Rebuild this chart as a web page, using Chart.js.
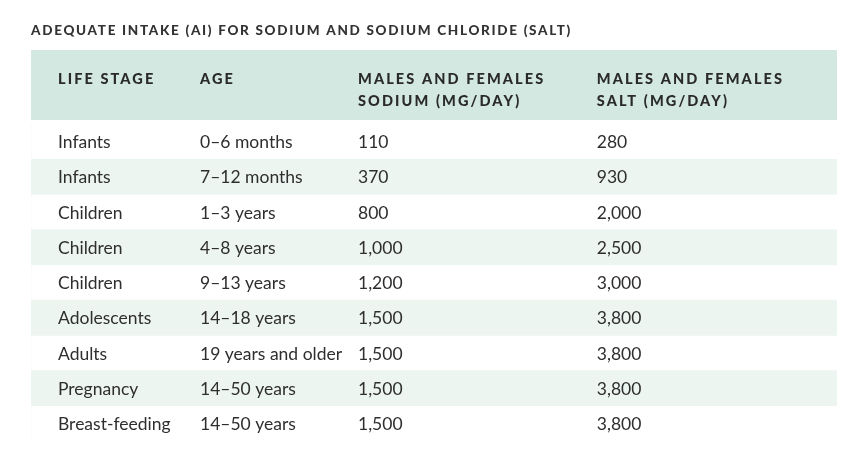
<!DOCTYPE html>
<html><head><meta charset="utf-8">
<script src="https://cdn.jsdelivr.net/npm/chart.js@4"></script>
<style>html,body{margin:0;padding:0;background:#fff}#w{width:853px;height:451px}</style>
</head><body><div id="w"><canvas id="c"></canvas></div>
<script>
const title = "ADEQUATE INTAKE (AI) FOR SODIUM AND SODIUM CHLORIDE (SALT)";
const headers = [["LIFE STAGE"],["AGE"],["MALES AND FEMALES","SODIUM (MG/DAY)"],["MALES AND FEMALES","SALT (MG/DAY)"]];
const lifeStages = ["Infants","Infants","Children","Children","Children","Adolescents","Adults","Pregnancy","Breast-feeding"];
const ages = ["0–6 months","7–12 months","1–3 years","4–8 years","9–13 years","14–18 years","19 years and older","14–50 years","14–50 years"];
const sodium = [110,370,800,1000,1200,1500,1500,1500,1500];
const salt = [280,930,2000,2500,3000,3800,3800,3800,3800];
const columnPos = [0.0335,0.2097,0.4057,0.702];
const stripe = lifeStages.map((_,i)=> i%2===1 ? 1 : 0);
const fmt = v => v.toLocaleString('en-US');
const textPlugin = {
  id:'tbl',
  beforeDatasetsDraw(chart){
    const {ctx, chartArea:a} = chart;
    ctx.save();
    ctx.fillStyle = '#d3e8e0';
    ctx.fillRect(a.left, 50, a.right-a.left, 70);
    ctx.restore();
  },
  afterDraw(chart){
    const {ctx, chartArea:a, scales} = chart;
    const x = scales.x, y = scales.y;
    ctx.save();
    ctx.fillStyle = '#333';
    ctx.textBaseline = 'middle';
    ctx.font = '900 13.5px Lato';
    ctx.letterSpacing = '1.7px';
    ctx.fillText(title, a.left, 31);
    ctx.font = '900 14.5px Lato';
    ctx.letterSpacing = '2.1px';
    ctx.fillStyle = '#2a2a2a';
    headers.forEach((h,i)=>h.forEach((line,j)=>ctx.fillText(line, x.getPixelForValue(columnPos[i]), 79+j*22)));
    ctx.letterSpacing = '0px';
    ctx.font = '17.5px Lato';
    ctx.fillStyle = '#2e2e2e';
    lifeStages.forEach((s,i)=>{
      const py = y.getPixelForValue(i)+1;
      ctx.fillText(s, x.getPixelForValue(columnPos[0]), py);
      ctx.fillText(ages[i], x.getPixelForValue(columnPos[1]), py);
      ctx.fillText(fmt(sodium[i]), x.getPixelForValue(columnPos[2]), py);
      ctx.fillText(fmt(salt[i]), x.getPixelForValue(columnPos[3]), py);
    });
    ctx.restore();
  }
};
new Chart(document.getElementById('c'), {
  type:'bar',
  data:{labels:lifeStages.map((s,i)=>s+' '+ages[i]), datasets:[{data:stripe, backgroundColor:'#edf5f1', barPercentage:1, categoryPercentage:1}]},
  options:{
    indexAxis:'y', responsive:true, maintainAspectRatio:false, animation:false,
    layout:{padding:{top:124,left:31,right:16,bottom:10}},
    plugins:{legend:{display:false}, tooltip:{enabled:false}},
    scales:{x:{type:'linear',min:0,max:1,display:false}, y:{display:false}}
  },
  plugins:[textPlugin]
});
</script></body></html>
